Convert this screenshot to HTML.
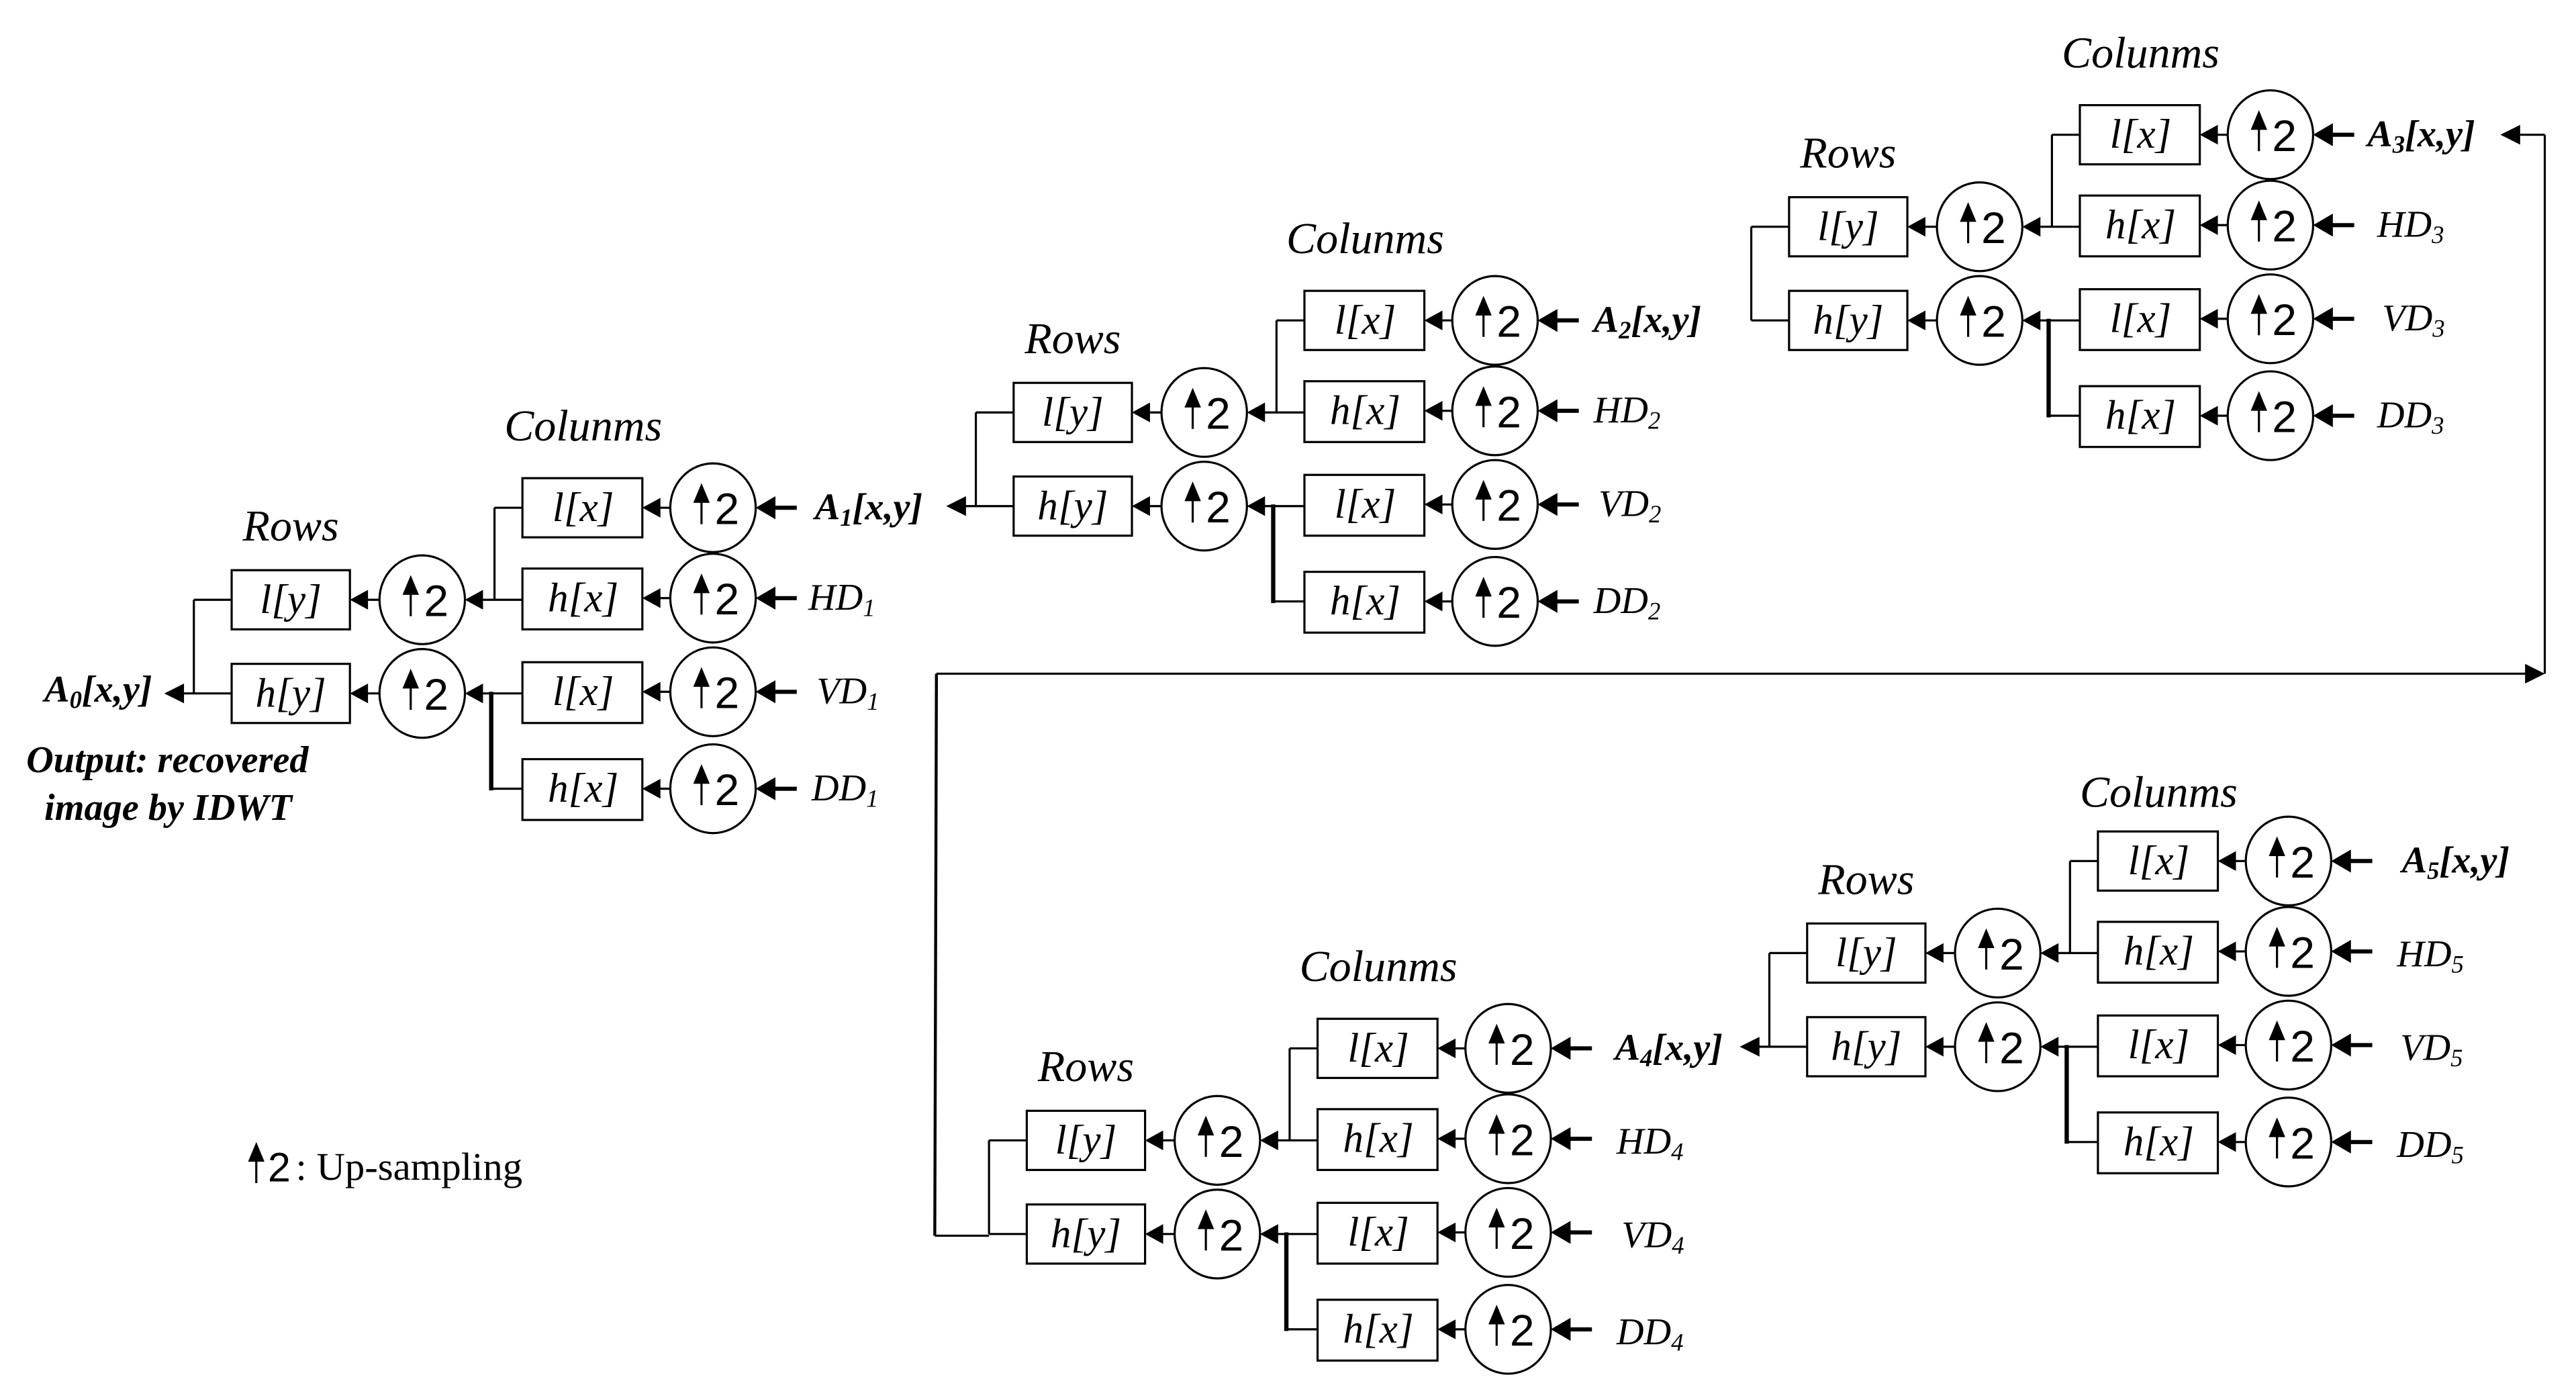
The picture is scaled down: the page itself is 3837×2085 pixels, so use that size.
<!DOCTYPE html>
<html><head><meta charset="utf-8"><style>
html,body{margin:0;padding:0;background:#fff}
svg{display:block}
.t{font-family:"Liberation Serif","Times New Roman",Times,"DejaVu Serif",serif;font-style:italic;font-size:27px;text-anchor:middle}
.b{font-family:"Liberation Serif","Times New Roman",Times,"DejaVu Serif",serif;font-style:italic;font-size:25px;text-anchor:middle}
.n{font-family:"Liberation Sans",Arial,sans-serif;font-size:27px}
.l{font-family:"Liberation Serif","Times New Roman",Times,"DejaVu Serif",serif;font-style:italic;font-size:23px}
.lb{font-family:"Liberation Serif","Times New Roman",Times,"DejaVu Serif",serif;font-style:italic;font-weight:bold;font-size:23px}
.s{font-size:15px}
line,rect,ellipse,path{stroke:#000;fill:none;stroke-width:1.3}
polygon{fill:#000;stroke:none}
</style></head><body>
<svg width="3837" height="2085" viewBox="0 0 1568 852" preserveAspectRatio="none" xmlns="http://www.w3.org/2000/svg">
<defs>
<g id="u"><line x1="0" y1="-4" x2="0" y2="10"/><polygon points="-5,-3 5,-3 0,-15"/></g>
</defs>

<g transform="translate(0,0)">
<text class="t" x="177" y="329">Rows</text>
<text class="t" x="355" y="268">Colunms</text>
<polygon points="100,422 112,416 112,428"/><line x1="111" y1="422" x2="141" y2="422"/>
<line x1="118" y1="365" x2="118" y2="422"/><line x1="118" y1="365" x2="141" y2="365"/>
<rect x="141" y="347" width="72" height="36"/><rect x="141" y="404" width="72" height="36"/>
<text class="b" x="177" y="373">l[y]</text><text class="b" x="177" y="430">h[y]</text>
<polygon points="213,365 224,359 224,371"/><line x1="223" y1="365" x2="231" y2="365"/>
<polygon points="213,422 224,416 224,428"/><line x1="223" y1="422" x2="231" y2="422"/>
<ellipse cx="257" cy="365" rx="26" ry="27"/><ellipse cx="257" cy="422" rx="26" ry="27"/>
<use href="#u" x="250" y="365"/><text class="n" x="258" y="375">2</text>
<use href="#u" x="250" y="422"/><text class="n" x="258" y="432">2</text>
<polygon points="283,365 294,359 294,371"/><line x1="293" y1="365" x2="318" y2="365"/>
<polygon points="283,422 294,416 294,428"/><line x1="293" y1="422" x2="318" y2="422"/>
<line x1="301" y1="309" x2="301" y2="365"/><line x1="301" y1="309" x2="318" y2="309"/>
<line x1="299" y1="421" x2="299" y2="481" style="stroke-width:2.6"/><line x1="299" y1="480" x2="318" y2="480"/>
<rect x="318" y="291" width="73" height="36"/><rect x="318" y="346" width="73" height="37"/>
<rect x="318" y="403" width="73" height="37"/><rect x="318" y="462" width="73" height="37"/>
<text class="b" x="355" y="317">l[x]</text><text class="b" x="355" y="372">h[x]</text>
<text class="b" x="355" y="429">l[x]</text><text class="b" x="355" y="488">h[x]</text>
<polygon points="391,309 402,303 402,315"/><line x1="401" y1="309" x2="408" y2="309"/>
<polygon points="391,364 402,358 402,370"/><line x1="401" y1="364" x2="408" y2="364"/>
<polygon points="391,421 402,415 402,427"/><line x1="401" y1="421" x2="408" y2="421"/>
<polygon points="391,480 402,474 402,486"/><line x1="401" y1="480" x2="408" y2="480"/>
<ellipse cx="434" cy="309" rx="26" ry="27"/><ellipse cx="434" cy="364" rx="26" ry="27"/>
<ellipse cx="434" cy="421" rx="26" ry="27"/><ellipse cx="434" cy="480" rx="26" ry="27"/>
<use href="#u" x="427" y="309"/><text class="n" x="435" y="319">2</text>
<use href="#u" x="427" y="364"/><text class="n" x="435" y="374">2</text>
<use href="#u" x="427" y="421"/><text class="n" x="435" y="431">2</text>
<use href="#u" x="427" y="480"/><text class="n" x="435" y="490">2</text>
<polygon points="460,309 472,302 472,316"/><line x1="471" y1="309" x2="485" y2="309" style="stroke-width:2.5"/>
<polygon points="460,364 472,357 472,371"/><line x1="471" y1="364" x2="485" y2="364" style="stroke-width:2.5"/>
<polygon points="460,421 472,414 472,428"/><line x1="471" y1="421" x2="485" y2="421" style="stroke-width:2.5"/>
<polygon points="460,480 472,473 472,487"/><line x1="471" y1="480" x2="485" y2="480" style="stroke-width:2.5"/>
<text class="lb" x="496" y="316">A<tspan class="s" dy="4">1</tspan><tspan dy="-4">[x,y]</tspan></text>
<text class="l" x="492" y="371">HD<tspan class="s" dy="4">1</tspan></text>
<text class="l" x="497" y="428">VD<tspan class="s" dy="4">1</tspan></text>
<text class="l" x="494" y="487">DD<tspan class="s" dy="4">1</tspan></text>
</g>

<g transform="translate(476,-114)">
<text class="t" x="177" y="329">Rows</text>
<text class="t" x="355" y="268">Colunms</text>
<polygon points="100,422 112,416 112,428"/><line x1="111" y1="422" x2="141" y2="422"/>
<line x1="118" y1="365" x2="118" y2="422"/><line x1="118" y1="365" x2="141" y2="365"/>
<rect x="141" y="347" width="72" height="36"/><rect x="141" y="404" width="72" height="36"/>
<text class="b" x="177" y="373">l[y]</text><text class="b" x="177" y="430">h[y]</text>
<polygon points="213,365 224,359 224,371"/><line x1="223" y1="365" x2="231" y2="365"/>
<polygon points="213,422 224,416 224,428"/><line x1="223" y1="422" x2="231" y2="422"/>
<ellipse cx="257" cy="365" rx="26" ry="27"/><ellipse cx="257" cy="422" rx="26" ry="27"/>
<use href="#u" x="250" y="365"/><text class="n" x="258" y="375">2</text>
<use href="#u" x="250" y="422"/><text class="n" x="258" y="432">2</text>
<polygon points="283,365 294,359 294,371"/><line x1="293" y1="365" x2="318" y2="365"/>
<polygon points="283,422 294,416 294,428"/><line x1="293" y1="422" x2="318" y2="422"/>
<line x1="301" y1="309" x2="301" y2="365"/><line x1="301" y1="309" x2="318" y2="309"/>
<line x1="299" y1="421" x2="299" y2="481" style="stroke-width:2.6"/><line x1="299" y1="480" x2="318" y2="480"/>
<rect x="318" y="291" width="73" height="36"/><rect x="318" y="346" width="73" height="37"/>
<rect x="318" y="403" width="73" height="37"/><rect x="318" y="462" width="73" height="37"/>
<text class="b" x="355" y="317">l[x]</text><text class="b" x="355" y="372">h[x]</text>
<text class="b" x="355" y="429">l[x]</text><text class="b" x="355" y="488">h[x]</text>
<polygon points="391,309 402,303 402,315"/><line x1="401" y1="309" x2="408" y2="309"/>
<polygon points="391,364 402,358 402,370"/><line x1="401" y1="364" x2="408" y2="364"/>
<polygon points="391,421 402,415 402,427"/><line x1="401" y1="421" x2="408" y2="421"/>
<polygon points="391,480 402,474 402,486"/><line x1="401" y1="480" x2="408" y2="480"/>
<ellipse cx="434" cy="309" rx="26" ry="27"/><ellipse cx="434" cy="364" rx="26" ry="27"/>
<ellipse cx="434" cy="421" rx="26" ry="27"/><ellipse cx="434" cy="480" rx="26" ry="27"/>
<use href="#u" x="427" y="309"/><text class="n" x="435" y="319">2</text>
<use href="#u" x="427" y="364"/><text class="n" x="435" y="374">2</text>
<use href="#u" x="427" y="421"/><text class="n" x="435" y="431">2</text>
<use href="#u" x="427" y="480"/><text class="n" x="435" y="490">2</text>
<polygon points="460,309 472,302 472,316"/><line x1="471" y1="309" x2="485" y2="309" style="stroke-width:2.5"/>
<polygon points="460,364 472,357 472,371"/><line x1="471" y1="364" x2="485" y2="364" style="stroke-width:2.5"/>
<polygon points="460,421 472,414 472,428"/><line x1="471" y1="421" x2="485" y2="421" style="stroke-width:2.5"/>
<polygon points="460,480 472,473 472,487"/><line x1="471" y1="480" x2="485" y2="480" style="stroke-width:2.5"/>
<text class="lb" x="494" y="316">A<tspan class="s" dy="4">2</tspan><tspan dy="-4">[x,y]</tspan></text>
<text class="l" x="494" y="371">HD<tspan class="s" dy="4">2</tspan></text>
<text class="l" x="497" y="428">VD<tspan class="s" dy="4">2</tspan></text>
<text class="l" x="494" y="487">DD<tspan class="s" dy="4">2</tspan></text>
</g>

<g transform="translate(948,-227)">
<text class="t" x="177" y="329">Rows</text>
<text class="t" x="355" y="268">Colunms</text>
<line x1="118" y1="422" x2="141" y2="422"/>
<line x1="118" y1="365" x2="118" y2="422"/><line x1="118" y1="365" x2="141" y2="365"/>
<rect x="141" y="347" width="72" height="36"/><rect x="141" y="404" width="72" height="36"/>
<text class="b" x="177" y="373">l[y]</text><text class="b" x="177" y="430">h[y]</text>
<polygon points="213,365 224,359 224,371"/><line x1="223" y1="365" x2="231" y2="365"/>
<polygon points="213,422 224,416 224,428"/><line x1="223" y1="422" x2="231" y2="422"/>
<ellipse cx="257" cy="365" rx="26" ry="27"/><ellipse cx="257" cy="422" rx="26" ry="27"/>
<use href="#u" x="250" y="365"/><text class="n" x="258" y="375">2</text>
<use href="#u" x="250" y="422"/><text class="n" x="258" y="432">2</text>
<polygon points="283,365 294,359 294,371"/><line x1="293" y1="365" x2="318" y2="365"/>
<polygon points="283,422 294,416 294,428"/><line x1="293" y1="422" x2="318" y2="422"/>
<line x1="301" y1="309" x2="301" y2="365"/><line x1="301" y1="309" x2="318" y2="309"/>
<line x1="299" y1="421" x2="299" y2="481" style="stroke-width:2.6"/><line x1="299" y1="480" x2="318" y2="480"/>
<rect x="318" y="291" width="73" height="36"/><rect x="318" y="346" width="73" height="37"/>
<rect x="318" y="403" width="73" height="37"/><rect x="318" y="462" width="73" height="37"/>
<text class="b" x="355" y="317">l[x]</text><text class="b" x="355" y="372">h[x]</text>
<text class="b" x="355" y="429">l[x]</text><text class="b" x="355" y="488">h[x]</text>
<polygon points="391,309 402,303 402,315"/><line x1="401" y1="309" x2="408" y2="309"/>
<polygon points="391,364 402,358 402,370"/><line x1="401" y1="364" x2="408" y2="364"/>
<polygon points="391,421 402,415 402,427"/><line x1="401" y1="421" x2="408" y2="421"/>
<polygon points="391,480 402,474 402,486"/><line x1="401" y1="480" x2="408" y2="480"/>
<ellipse cx="434" cy="309" rx="26" ry="27"/><ellipse cx="434" cy="364" rx="26" ry="27"/>
<ellipse cx="434" cy="421" rx="26" ry="27"/><ellipse cx="434" cy="480" rx="26" ry="27"/>
<use href="#u" x="427" y="309"/><text class="n" x="435" y="319">2</text>
<use href="#u" x="427" y="364"/><text class="n" x="435" y="374">2</text>
<use href="#u" x="427" y="421"/><text class="n" x="435" y="431">2</text>
<use href="#u" x="427" y="480"/><text class="n" x="435" y="490">2</text>
<polygon points="460,309 472,302 472,316"/><line x1="471" y1="309" x2="485" y2="309" style="stroke-width:2.5"/>
<polygon points="460,364 472,357 472,371"/><line x1="471" y1="364" x2="485" y2="364" style="stroke-width:2.5"/>
<polygon points="460,421 472,414 472,428"/><line x1="471" y1="421" x2="485" y2="421" style="stroke-width:2.5"/>
<polygon points="460,480 472,473 472,487"/><line x1="471" y1="480" x2="485" y2="480" style="stroke-width:2.5"/>
<text class="lb" x="493" y="316">A<tspan class="s" dy="4">3</tspan><tspan dy="-4">[x,y]</tspan></text>
<text class="l" x="499" y="371">HD<tspan class="s" dy="4">3</tspan></text>
<text class="l" x="502" y="428">VD<tspan class="s" dy="4">3</tspan></text>
<text class="l" x="499" y="487">DD<tspan class="s" dy="4">3</tspan></text>
</g>

<g transform="translate(484,329)">
<text class="t" x="177" y="329">Rows</text>
<text class="t" x="355" y="268">Colunms</text>
<line x1="118" y1="422" x2="141" y2="422"/>
<line x1="118" y1="365" x2="118" y2="422"/><line x1="118" y1="365" x2="141" y2="365"/>
<rect x="141" y="347" width="72" height="36"/><rect x="141" y="404" width="72" height="36"/>
<text class="b" x="177" y="373">l[y]</text><text class="b" x="177" y="430">h[y]</text>
<polygon points="213,365 224,359 224,371"/><line x1="223" y1="365" x2="231" y2="365"/>
<polygon points="213,422 224,416 224,428"/><line x1="223" y1="422" x2="231" y2="422"/>
<ellipse cx="257" cy="365" rx="26" ry="27"/><ellipse cx="257" cy="422" rx="26" ry="27"/>
<use href="#u" x="250" y="365"/><text class="n" x="258" y="375">2</text>
<use href="#u" x="250" y="422"/><text class="n" x="258" y="432">2</text>
<polygon points="283,365 294,359 294,371"/><line x1="293" y1="365" x2="318" y2="365"/>
<polygon points="283,422 294,416 294,428"/><line x1="293" y1="422" x2="318" y2="422"/>
<line x1="301" y1="309" x2="301" y2="365"/><line x1="301" y1="309" x2="318" y2="309"/>
<line x1="299" y1="421" x2="299" y2="481" style="stroke-width:2.6"/><line x1="299" y1="480" x2="318" y2="480"/>
<rect x="318" y="291" width="73" height="36"/><rect x="318" y="346" width="73" height="37"/>
<rect x="318" y="403" width="73" height="37"/><rect x="318" y="462" width="73" height="37"/>
<text class="b" x="355" y="317">l[x]</text><text class="b" x="355" y="372">h[x]</text>
<text class="b" x="355" y="429">l[x]</text><text class="b" x="355" y="488">h[x]</text>
<polygon points="391,309 402,303 402,315"/><line x1="401" y1="309" x2="408" y2="309"/>
<polygon points="391,364 402,358 402,370"/><line x1="401" y1="364" x2="408" y2="364"/>
<polygon points="391,421 402,415 402,427"/><line x1="401" y1="421" x2="408" y2="421"/>
<polygon points="391,480 402,474 402,486"/><line x1="401" y1="480" x2="408" y2="480"/>
<ellipse cx="434" cy="309" rx="26" ry="27"/><ellipse cx="434" cy="364" rx="26" ry="27"/>
<ellipse cx="434" cy="421" rx="26" ry="27"/><ellipse cx="434" cy="480" rx="26" ry="27"/>
<use href="#u" x="427" y="309"/><text class="n" x="435" y="319">2</text>
<use href="#u" x="427" y="364"/><text class="n" x="435" y="374">2</text>
<use href="#u" x="427" y="421"/><text class="n" x="435" y="431">2</text>
<use href="#u" x="427" y="480"/><text class="n" x="435" y="490">2</text>
<polygon points="460,309 472,302 472,316"/><line x1="471" y1="309" x2="485" y2="309" style="stroke-width:2.5"/>
<polygon points="460,364 472,357 472,371"/><line x1="471" y1="364" x2="485" y2="364" style="stroke-width:2.5"/>
<polygon points="460,421 472,414 472,428"/><line x1="471" y1="421" x2="485" y2="421" style="stroke-width:2.5"/>
<polygon points="460,480 472,473 472,487"/><line x1="471" y1="480" x2="485" y2="480" style="stroke-width:2.5"/>
<text class="lb" x="499" y="316">A<tspan class="s" dy="4">4</tspan><tspan dy="-4">[x,y]</tspan></text>
<text class="l" x="500" y="373">HD<tspan class="s" dy="4">4</tspan></text>
<text class="l" x="503" y="430">VD<tspan class="s" dy="4">4</tspan></text>
<text class="l" x="500" y="489">DD<tspan class="s" dy="4">4</tspan></text>
</g>

<g transform="translate(959,215)">
<text class="t" x="177" y="329">Rows</text>
<text class="t" x="355" y="276">Colunms</text>
<polygon points="100,422 112,416 112,428"/><line x1="111" y1="422" x2="141" y2="422"/>
<line x1="118" y1="365" x2="118" y2="422"/><line x1="118" y1="365" x2="141" y2="365"/>
<rect x="141" y="347" width="72" height="36"/><rect x="141" y="404" width="72" height="36"/>
<text class="b" x="177" y="373">l[y]</text><text class="b" x="177" y="430">h[y]</text>
<polygon points="213,365 224,359 224,371"/><line x1="223" y1="365" x2="231" y2="365"/>
<polygon points="213,422 224,416 224,428"/><line x1="223" y1="422" x2="231" y2="422"/>
<ellipse cx="257" cy="365" rx="26" ry="27"/><ellipse cx="257" cy="422" rx="26" ry="27"/>
<use href="#u" x="250" y="365"/><text class="n" x="258" y="375">2</text>
<use href="#u" x="250" y="422"/><text class="n" x="258" y="432">2</text>
<polygon points="283,365 294,359 294,371"/><line x1="293" y1="365" x2="318" y2="365"/>
<polygon points="283,422 294,416 294,428"/><line x1="293" y1="422" x2="318" y2="422"/>
<line x1="301" y1="309" x2="301" y2="365"/><line x1="301" y1="309" x2="318" y2="309"/>
<line x1="299" y1="421" x2="299" y2="481" style="stroke-width:2.6"/><line x1="299" y1="480" x2="318" y2="480"/>
<rect x="318" y="291" width="73" height="36"/><rect x="318" y="346" width="73" height="37"/>
<rect x="318" y="403" width="73" height="37"/><rect x="318" y="462" width="73" height="37"/>
<text class="b" x="355" y="317">l[x]</text><text class="b" x="355" y="372">h[x]</text>
<text class="b" x="355" y="429">l[x]</text><text class="b" x="355" y="488">h[x]</text>
<polygon points="391,309 402,303 402,315"/><line x1="401" y1="309" x2="408" y2="309"/>
<polygon points="391,364 402,358 402,370"/><line x1="401" y1="364" x2="408" y2="364"/>
<polygon points="391,421 402,415 402,427"/><line x1="401" y1="421" x2="408" y2="421"/>
<polygon points="391,480 402,474 402,486"/><line x1="401" y1="480" x2="408" y2="480"/>
<ellipse cx="434" cy="309" rx="26" ry="27"/><ellipse cx="434" cy="364" rx="26" ry="27"/>
<ellipse cx="434" cy="421" rx="26" ry="27"/><ellipse cx="434" cy="480" rx="26" ry="27"/>
<use href="#u" x="427" y="309"/><text class="n" x="435" y="319">2</text>
<use href="#u" x="427" y="364"/><text class="n" x="435" y="374">2</text>
<use href="#u" x="427" y="421"/><text class="n" x="435" y="431">2</text>
<use href="#u" x="427" y="480"/><text class="n" x="435" y="490">2</text>
<polygon points="460,309 472,302 472,316"/><line x1="471" y1="309" x2="485" y2="309" style="stroke-width:2.5"/>
<polygon points="460,364 472,357 472,371"/><line x1="471" y1="364" x2="485" y2="364" style="stroke-width:2.5"/>
<polygon points="460,421 472,414 472,428"/><line x1="471" y1="421" x2="485" y2="421" style="stroke-width:2.5"/>
<polygon points="460,480 472,473 472,487"/><line x1="471" y1="480" x2="485" y2="480" style="stroke-width:2.5"/>
<text class="lb" x="503" y="316">A<tspan class="s" dy="4">5</tspan><tspan dy="-4">[x,y]</tspan></text>
<text class="l" x="500" y="373">HD<tspan class="s" dy="4">5</tspan></text>
<text class="l" x="502" y="430">VD<tspan class="s" dy="4">5</tspan></text>
<text class="l" x="500" y="489">DD<tspan class="s" dy="4">5</tspan></text>
</g>

<polygon points="1522,82 1534,76 1534,88"/>
<line x1="1533" y1="82" x2="1549" y2="82"/>
<line x1="1549" y1="82" x2="1549" y2="410"/>
<line x1="570" y1="410" x2="1540" y2="410"/>
<polygon points="1549,410 1537,404 1537,416"/>
<line x1="570" y1="410" x2="569" y2="752" style="stroke-width:1.8"/>
<line x1="569" y1="752" x2="602" y2="752"/>

<text class="lb" x="27" y="427" style="font-size:23px">A<tspan class="s" dy="4">0</tspan><tspan dy="-4">[x,y]</tspan></text>
<text class="lb" x="16" y="470" style="font-size:23px">Output: recovered</text>
<text class="lb" x="27" y="499" style="font-size:23px">image by IDWT</text>

<use href="#u" x="156" y="710"/>
<text class="n" x="163" y="719" style="font-size:25px">2</text>
<text x="180" y="718" style="font-family:'Liberation Serif','Times New Roman',Times,'DejaVu Serif',serif;font-size:24px">: Up-sampling</text>
</svg>
</body></html>
